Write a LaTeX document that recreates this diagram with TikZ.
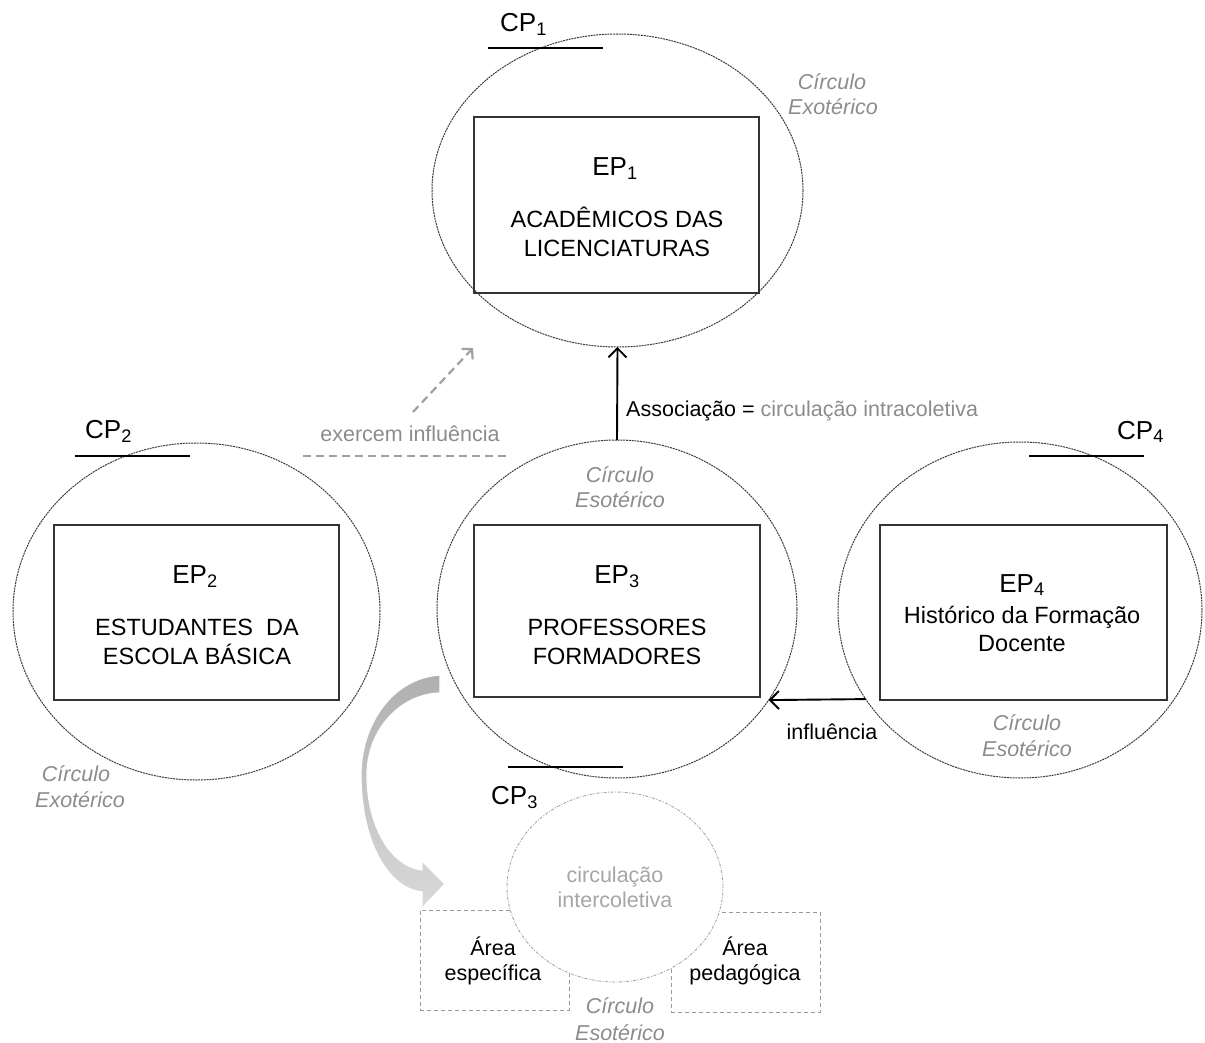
\documentclass[tikz,border=0pt]{standalone}
\usepackage{fontspec}
\setmainfont{Liberation Sans}
\usetikzlibrary{shapes.geometric,arrows.meta}
\definecolor{tgray}{HTML}{8C8C8C}
\definecolor{lgray}{HTML}{A6A6A6}
\definecolor{cline}{HTML}{3C3C3C}
\definecolor{dgray}{HTML}{A0A0A0}
\begin{document}
\begin{tikzpicture}[x=1pt,y=-1pt,
  circ/.style={ellipse, draw=cline, line width=1pt, dash pattern=on 2pt off 0.8pt, inner sep=0pt, outer sep=0pt},
  box/.style={draw=black!80, line width=1.3pt, inner sep=0pt, outer sep=0pt},
  eptxt/.style={anchor=base, inner sep=0pt, font=\fontsize{26}{30}\selectfont},
  bodytxt/.style={anchor=base, inner sep=0pt, font=\fontsize{23.5}{28}\selectfont},
  cptxt/.style={anchor=base west, inner sep=0pt, font=\fontsize{26}{30}\selectfont},
  glabel/.style={anchor=base, inner sep=0pt, text=tgray, font=\fontsize{21.5}{26}\selectfont\itshape},
  small/.style={anchor=base, inner sep=0pt, font=\fontsize{21.5}{26}\selectfont},
  cpline/.style={line width=1.8pt, black},
  arr/.style={line width=1.9pt, -{Straight Barb[length=9pt,width=18pt]}},
  garr/.style={line width=2.2pt, draw=dgray, dash pattern=on 8pt off 5pt},
  dbox/.style={draw=gray!80, line width=0.9pt, dash pattern=on 4pt off 3pt, inner sep=0pt}]
\useasboundingbox (0,0) rectangle (1205,1043);

% ---- big circles
\node[circ, minimum width=371pt, minimum height=313pt] (c1) at (617.5,190.5) {};
\node[circ, minimum width=367pt, minimum height=337pt] (c2) at (196.5,611.5) {};
\node[circ, minimum width=360pt, minimum height=338pt] (c3) at (617,609) {};
\node[circ, minimum width=364pt, minimum height=336pt] (c4) at (1020,610) {};

% ---- rectangles
\node[box, minimum width=285pt, minimum height=176pt] (r1) at (616.5,205) {};
\node[box, minimum width=285pt, minimum height=175pt] (r2) at (196.5,612.5) {};
\node[box, minimum width=286pt, minimum height=172pt] (r3) at (617,611) {};
\node[box, minimum width=287pt, minimum height=175pt] (r4) at (1023.5,612.5) {};

% ---- rectangle texts
\node[eptxt] (t1) at (615,176) {EP\textsubscript{1}};
\node[bodytxt] (t1a) at (617,228) {ACADÊMICOS DAS};
\node[bodytxt] (t1b) at (617,257) {LICENCIATURAS};
\node[eptxt] (t2) at (195,583) {EP\textsubscript{2}};
\node[bodytxt] (t2a) at (197,635) {ESTUDANTES\ \ DA};
\node[bodytxt] (t2b) at (197,664) {ESCOLA BÁSICA};
\node[eptxt] (t3) at (617,583) {EP\textsubscript{3}};
\node[bodytxt] (t3a) at (617,635) {PROFESSORES};
\node[bodytxt] (t3b) at (617,664) {FORMADORES};
\node[eptxt] (t4) at (1022,592) {EP\textsubscript{4}};
\node[bodytxt] (t4a) at (1022,623) {Histórico da Formação};
\node[bodytxt] (t4b) at (1022,651) {Docente};

% ---- CP labels and lines
\node[cptxt] (cp1) at (500,32) {CP\textsubscript{1}};
\node[cptxt] (cp2) at (85,438) {CP\textsubscript{2}};
\node[cptxt] (cp3) at (491,804) {CP\textsubscript{3}};
\node[cptxt] (cp4) at (1117,439) {CP\textsubscript{4}};
\draw[cpline] (488,48) -- (603,48);
\draw[cpline] (75,456) -- (190,456);
\draw[cpline] (508,767) -- (623,767);
\draw[cpline] (1029,456) -- (1144,456);

% ---- circle labels
\node[glabel] (g1a) at (832,90) {Círculo};
\node[glabel] (g1b) at (833,115) {Exotérico};
\node[glabel] (g3a) at (620,482) {Círculo};
\node[glabel] (g3b) at (620,507) {Esotérico};
\node[glabel] (g2a) at (76,781) {Círculo};
\node[glabel] (g2b) at (80,807) {Exotérico};
\node[glabel] (g4a) at (1027,730) {Círculo};
\node[glabel] (g4b) at (1027,756) {Esotérico};

% ---- connectors
\draw[arr] (c3.north) -- (c1.south);
\node[small, anchor=base west] (assoc) at (626,416) {Associação = \textcolor{tgray}{circulação intracoletiva}};
\draw[arr] (c4.210) -- (c3.329);
\node[small] (infl) at (832,739) {influência};

\coordinate (d1) at (413,412);
\coordinate (d2) at (473,348);
\draw[garr, -{Straight Barb[length=7pt,width=15pt]}] (d1) -- (d2);
\coordinate (e1) at (303,456);
\coordinate (e2) at (507,456);
\draw[garr] (e1) -- (e2);
\node[small, text=tgray] (exer) at (410,441) {exercem influência};

% ---- curved grey arrow
\path[draw=white, line width=1.2pt, top color=gray!62, bottom color=gray!30]
  (440,675) .. controls (392,678) and (361,725) .. (361,775)
  .. controls (361,838) and (386,888) .. (422,892)
  -- (422,908) -- (445,884) -- (422,861) -- (422,870)
  .. controls (390,866) and (367,825) .. (367,775)
  .. controls (367,730) and (400,694) .. (440,693) -- cycle;

% ---- bottom part
\node[dbox, minimum width=149pt, minimum height=100pt] (b1) at (494.5,960) {};
\node[dbox, minimum width=149pt, minimum height=100pt] (b2) at (745.5,962) {};
\node[ellipse, draw=lgray, fill=white, line width=0.9pt, dash pattern=on 3pt off 1.5pt on 1pt off 1.5pt, minimum width=216pt, minimum height=190pt, inner sep=0pt] (c5) at (615,887) {};
\node[small, text=lgray] (ci1) at (615,882) {circulação};
\node[small, text=lgray] (ci2) at (615,907) {intercoletiva};
\node[small] (a1) at (493,955) {Área};
\node[small] (a2) at (493,980) {específica};
\node[small] (p1) at (745,955) {Área};
\node[small] (p2) at (745,980) {pedagógica};
\node[glabel] (g5a) at (620,1013) {Círculo};
\node[glabel] (g5b) at (620,1040) {Esotérico};
\end{tikzpicture}
\end{document}
